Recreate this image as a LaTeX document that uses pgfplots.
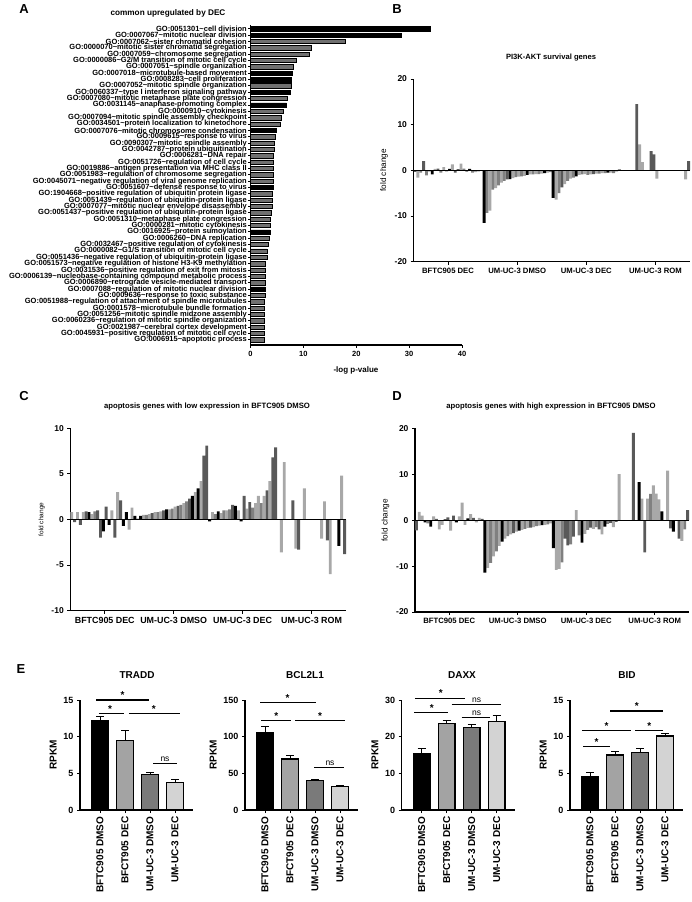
\documentclass[border=0pt]{standalone}
\usepackage{fontspec}
\setmainfont{Liberation Sans}
\usepackage{pgfplots}
\pgfplotsset{compat=1.18}

\definecolor{cdk}{HTML}{595959}
\definecolor{cmd}{HTML}{808080}
\definecolor{clt}{HTML}{A8A8A8}
\definecolor{agr}{HTML}{707070}
\definecolor{eg1}{HTML}{A3A3A3}
\definecolor{eg2}{HTML}{7A7A7A}
\definecolor{eg3}{HTML}{D3D3D3}
\newcommand\T{\textasciitilde}
\newcommand\fs[1]{\fontsize{#1}{#1}\selectfont}
\tikzset{sig/.style={line width=1.1pt}}

\pgfplotsset{
  gp/.style={scale only axis, anchor=south west, clip=false,
    axis x line*=bottom, axis y line*=left,
    axis line style={line width=1.1pt},
    tick style={line width=1pt, black},
    tick align=outside, major tick length=3pt,
    /pgf/number format/assume math mode=true},
  fc/.style={gp, width=276pt, height=183pt,
    xmin=-0.5, xmax=95.5, xtick={11.5,35.5,59.5,83.5},
    xticklabels={BFTC905 DEC,UM-UC-3 DMSO,UM-UC-3 DEC,UM-UC-3 ROM},
    xticklabel style={font=\fs{7.7}\bfseries},
    yticklabel style={font=\fs{8.5}\bfseries},
    ylabel={fold change}, ylabel style={font=\fs{8.2}}},
  fb/.style={ybar, bar width=2.9pt, bar shift=0pt, draw=none},
  eb/.style={gp, width=113pt, height=110pt, xmin=-0.8, xmax=3.72, ymin=0,
    axis line style={line width=1.3pt},
    xtick={0,1,2,3},
    xticklabels={BFTC905 DMSO,BFCT905 DEC,UM-UC-3 DMSO,UM-UC-3 DEC},
    xticklabel style={rotate=90, anchor=east, font=\fs{10}\bfseries},
    yticklabel style={font=\fs{9}\bfseries},
    ylabel={RPKM}, ylabel style={font=\fs{10}\bfseries}},
  ebar/.style={ybar, bar width=16.5pt, bar shift=0pt, draw=black, line width=1.2pt,
    error bars/y dir=plus, error bars/y explicit,
    error bars/error bar style={line width=1pt, black},
    error bars/error mark options={rotate=90, mark size=4pt, line width=1pt, black}},
}

\begin{document}
\begin{tikzpicture}
\path[use as bounding box] (0,0) rectangle (691pt,-902pt);

% panel letters and titles
\node[font=\fs{13}\bfseries] at (24pt,-9pt) {A};
\node[font=\fs{13}\bfseries] at (397pt,-9pt) {B};
\node[font=\fs{13}\bfseries] at (24pt,-396pt) {C};
\node[font=\fs{13}\bfseries] at (397pt,-396pt) {D};
\node[font=\fs{13}\bfseries] at (21pt,-669pt) {E};
\node[font=\fs{8.2}\bfseries] at (168pt,-13pt) {common upregulated by DEC};
\node[font=\fs{7.6}\bfseries] at (551pt,-58pt) {PI3K-AKT survival genes};
\node[font=\fs{7.7}\bfseries] at (207pt,-407pt) {apoptosis genes with low expression in BFTC905 DMSO};
\node[font=\fs{7.7}\bfseries] at (551pt,-407pt) {apoptosis genes with high expression in BFTC905 DMSO};
\node[font=\fs{8}\bfseries] at (356pt,-370pt) {-log p-value};

% ---------- A ----------
\begin{axis}[gp, at={(250.5pt,-345pt)}, width=211.5pt, height=320pt,
  y dir=reverse, xmin=0, xmax=40, ymin=0.4, ymax=50.8,
  xtick={0,10,20,30,40}, ytick={1,...,50},
  major tick length=2.5pt,
  xticklabel style={font=\fs{7.5}\bfseries},
  yticklabel style={font=\fs{7.5}\bfseries, inner xsep=1pt, inner ysep=0pt},
  yticklabels={GO:0051301\T cell division,GO:0007067\T mitotic nuclear division,GO:0007062\T sister chromatid cohesion,GO:0000070\T mitotic sister chromatid segregation,GO:0007059\T chromosome segregation,GO:0000086\T G2/M transition of mitotic cell cycle,GO:0007051\T spindle organization,GO:0007018\T microtubule-based movement,GO:0008283\T cell proliferation,GO:0007052\T mitotic spindle organization,GO:0060337\T type I interferon signaling pathway,GO:0007080\T mitotic metaphase plate congression,GO:0031145\T anaphase-promoting complex,GO:0000910\T cytokinesis,GO:0007094\T mitotic spindle assembly checkpoint,GO:0034501\T protein localization to kinetochore,GO:0007076\T mitotic chromosome condensation,GO:0009615\T response to virus,GO:0090307\T mitotic spindle assembly,GO:0042787\T protein ubiquitination,GO:0006281\T DNA repair,GO:0051726\T regulation of cell cycle,GO:0019886\T antigen presentation via MHC class II,GO:0051983\T regulation of chromosome segregation,GO:0045071\T negative regulation of viral genome replication,GO:0051607\T defense response to virus,GO:1904668\T positive regulation of ubiquitin protein ligase,GO:0051439\T regulation of ubiquitin-protein ligase,GO:0007077\T mitotic nuclear envelope disassembly,GO:0051437\T positive regulation of ubiquitin-protein ligase,GO:0051310\T metaphase plate congression,GO:0000281\T mitotic cytokinesis,GO:0016925\T protein sumoylation,GO:0006260\T DNA replication,GO:0032467\T positive regulation of cytokinesis,GO:0000082\T G1/S transition of mitotic cell cycle,GO:0051436\T negative regulation of ubiquitin-protein ligase,GO:0051573\T negative regulation of histone H3-K9 methylation,GO:0031536\T positive regulation of exit from mitosis,GO:0006139\T nucleobase-containing compound metabolic process,GO:0006890\T retrograde vesicle-mediated transport,GO:0007088\T regulation of mitotic nuclear division,GO:0009636\T response to toxic substance,GO:0051988\T regulation of attachment of spindle microtubules,GO:0001578\T microtubule bundle formation,GO:0051256\T mitotic spindle midzone assembly,GO:0060236\T regulation of mitotic spindle organization,GO:0021987\T cerebral cortex development,GO:0045931\T positive regulation of mitotic cell cycle,GO:0006915\T apoptotic process},
]
\addplot[xbar, bar width=4.3pt, bar shift=0pt, fill=black, draw=black, line width=0.5pt] coordinates {
(34,1) (28.5,2) (7.9,8) (7.8,9) (7.6,11) (6.8,13) (4.9,17) (4.3,26) (3.7,33) (2.8,42)};
\addplot[xbar, bar width=4.3pt, bar shift=0pt, fill=agr, draw=black, line width=0.7pt] coordinates {
(17.9,3) (11.6,4) (11.2,5) (8.6,6) (8.1,7) (7.7,10) (7.0,12) (6.2,14) (5.8,15) (5.7,16)
(4.7,18) (4.5,19) (4.5,20) (4.4,21) (4.4,22) (4.3,23) (4.3,24) (4.3,25) (4.15,27) (4.15,28)
(4.1,29) (3.9,30) (3.8,31) (3.7,32) (3.6,34) (3.3,35) (3.1,36) (3.1,37) (2.9,38) (2.9,39)
(2.8,40) (2.8,41) (2.8,43) (2.7,44) (2.7,45) (2.6,46) (2.6,47) (2.6,48) (2.6,49) (2.6,50)};
\end{axis}

% ---------- B ----------
\begin{axis}[fc, at={(413.5pt,-261.7pt)}, width=276.5pt, height=182.7pt,
  ymin=-20, ymax=20, ytick={-20,-10,0,10,20}]
\addplot[fb, fill=clt] coordinates {(1,-1.6) (5,-0.3) (7,0.3) (10,0.7) (11,-0.3) (13,1.3) (16,1.5) (21,-0.4) (23,-0.1) (26,-8.8) (28,-3.9) (30,-2.7) (34,-1.7) (36,-1.4) (38,-1.2) (40,-0.9) (42,-0.8) (44,-0.7) (46,-0.5) (49,-6.4) (52,-3.0) (54,-1.8) (57,-1.0) (59,-0.8) (61,-0.9) (63,-0.7) (65,-0.6) (68,-0.5) (70,-0.3) (78,5.7) (79,1.8) (84,-1.8) (94,-2.0)};
\addplot[fb, fill=cmd] coordinates {(2,-0.5) (4,-1.1) (9,-0.5) (17,0.4) (20,-0.5) (22,-0.2) (25,-9.3) (27,-4.2) (29,-3.3) (31,-2.3) (35,-1.5) (37,-1.3) (41,-0.9) (43,-0.8) (47,-0.4) (50,-5.0) (53,-2.3) (55,-1.6) (58,-0.9) (60,-1.0) (64,-0.7) (66,-0.6) (69,-0.6)};
\addplot[fb, fill=cdk] coordinates {(3,2.0) (8,0.4) (14,-0.5) (18,-0.3) (32,-2.0) (51,-3.7) (62,-0.8) (71,0.2) (77,14.5) (82,4.2) (83,3.5) (95,2.0)};
\addplot[fb, fill=black] coordinates {(0,-0.3) (6,-0.9) (12,0.3) (15,0.2) (19,0.3) (24,-11.5) (33,-1.9) (39,-1.0) (45,-0.6) (48,-6.0) (56,-1.3) (67,-0.5)};
\addplot[black, line width=1pt] coordinates {(-0.5,0) (95.5,0)};
\end{axis}

% ---------- C ----------
\begin{axis}[fc, at={(70.3pt,-610.7pt)}, width=275.7pt, height=182.4pt,
  ymin=-10, ymax=10, ytick={-10,-5,0,5,10},
  xticklabel style={font=\fs{8.9}\bfseries},
  ylabel style={font=\fs{6.5}}]
\addplot[fb, fill=clt] coordinates {(0,0.8) (2,0.8) (4,0.8) (7,0.6) (14,1.0) (16,3.0) (20,-1.1) (21,1.3) (25,0.5) (27,0.6) (29,0.8) (31,0.9) (34,1.1) (36,1.4) (39,1.8) (43,3.0) (45,4.2) (49,0.8) (52,0.7) (54,1.0) (58,1.0) (61,1.2) (64,1.8) (65,2.6) (67,2.6) (69,4.2) (73,-3.6) (74,6.3) (78,-3.2) (81,3.4) (87,-2.1) (88,2.0) (90,-6.0) (94,4.8)};
\addplot[fb, fill=cmd] coordinates {(8,0.9) (23,0.1) (26,0.5) (30,0.8) (35,1.2) (38,1.6) (40,2.0) (50,0.6) (53,1.0) (55,1.1) (63,1.3) (66,1.8)};
\addplot[fb, fill=cdk] coordinates {(1,-0.3) (3,-0.6) (5,0.9) (9,1.0) (10,-2.0) (12,1.4) (15,-2.0) (17,2.1) (28,0.7) (32,1.0) (37,1.5) (41,2.3) (46,7.0) (47,8.1) (56,1.6) (60,2.6) (62,1.9) (68,3.2) (70,6.8) (71,7.9) (77,2.1) (79,-3.3) (89,-2.3) (95,-3.8)};
\addplot[fb, fill=black] coordinates {(6,0.8) (11,-1.3) (13,-0.6) (18,-0.7) (19,0.8) (22,0.4) (24,0.4) (33,1.1) (42,2.6) (44,3.4) (48,-0.2) (51,0.9) (57,1.5) (59,-0.2) (93,-2.9)};
\addplot[black, line width=1pt] coordinates {(-0.5,0) (95.5,0)};
\end{axis}

% ---------- D ----------
\begin{axis}[fc, at={(415pt,-612pt)}, width=274pt, height=183.7pt,
  ymin=-20, ymax=20, ytick={-20,-10,0,10,20}]
\addplot[fb, fill=clt] coordinates {(1,1.8) (2,1.0) (6,0.8) (8,-2.0) (9,-1.0) (12,-2.3) (15,0.8) (16,3.8) (17,-1.0) (19,1.3) (21,-0.5) (22,0.5) (25,-10.4) (27,-7.9) (29,-5.6) (31,-4.0) (33,-3.1) (35,-2.5) (37,-2.1) (39,-1.7) (41,-1.5) (43,-1.2) (45,-1.0) (47,-0.7) (49,-10.8) (50,-10.6) (56,2.2) (59,-3.0) (62,-1.9) (65,-3.1) (69,-1.5) (71,10.0) (79,4.7) (81,4.7) (83,7.6) (84,5.8) (85,4.5) (88,10.8) (93,-4.5)};
\addplot[fb, fill=cmd] coordinates {(4,-0.7) (26,-9.3) (28,-6.8) (32,-3.5) (38,-1.9) (42,-1.3) (46,-0.9) (51,-9.2) (54,-5.3) (57,-3.3) (60,-2.1) (63,-1.5) (67,-0.8) (82,5.7) (94,-2.0)};
\addplot[fb, fill=cdk] coordinates {(0,-2.2) (7,0.3) (10,0.2) (11,0.6) (13,1.0) (20,0.5) (23,0.3) (34,-2.8) (40,-1.6) (52,-4.0) (53,-5.5) (55,-3.6) (61,-1.6) (64,-2.0) (68,-0.6) (70,-0.4) (76,19.0) (80,-7.0) (89,-1.8) (92,-4.0) (95,2.2)};
\addplot[fb, fill=black] coordinates {(3,-0.5) (5,-1.4) (14,-0.5) (18,0.4) (24,-11.4) (30,-4.7) (36,-2.3) (44,-1.1) (48,-6.1) (58,-4.9) (66,-1.4) (78,8.3) (86,1.9) (90,-2.5)};
\addplot[black, line width=1pt] coordinates {(-0.5,0) (95.5,0)};
\end{axis}

% ---------- E: TRADD ----------
\node[font=\fs{10}\bfseries] at (137pt,-675pt) {TRADD};
\begin{axis}[eb, at={(80pt,-810pt)}, ymax=15, ytick={0,5,10,15}]
\addplot[ebar, fill=black] coordinates {(0,12.2) +- (0,0.5)};
\addplot[ebar, fill=eg1] coordinates {(1,9.5) +- (0,1.3)};
\addplot[ebar, fill=eg2] coordinates {(2,4.85) +- (0,0.3)};
\addplot[ebar, fill=eg3] coordinates {(3,3.75) +- (0,0.35)};
\draw[sig] (axis cs:-0.16,15) -- (axis cs:1.97,15);
\draw[sig] (axis cs:-0.05,13.2) -- (axis cs:0.96,13.2);
\draw[sig] (axis cs:1.15,13.2) -- (axis cs:3.2,13.2);
\draw[sig] (axis cs:2.13,6.4) -- (axis cs:3.07,6.4);
\node[font=\fs{10}\bfseries, anchor=south, inner sep=1pt] at (axis cs:0.9,15) {*};
\node[font=\fs{10}\bfseries, anchor=south, inner sep=1pt] at (axis cs:0.4,13.2) {*};
\node[font=\fs{10}\bfseries, anchor=south, inner sep=1pt] at (axis cs:2.15,13.2) {*};
\node[font=\fs{8.5}, anchor=south, inner sep=1.5pt] at (axis cs:2.6,6.4) {ns};
\end{axis}

% ---------- E: BCL2L1 ----------
\node[font=\fs{10}\bfseries] at (305pt,-675pt) {BCL2L1};
\begin{axis}[eb, at={(245pt,-810pt)}, ymax=150, ytick={0,50,100,150}]
\addplot[ebar, fill=black] coordinates {(0,106) +- (0,8.5)};
\addplot[ebar, fill=eg1] coordinates {(1,69.5) +- (0,5)};
\addplot[ebar, fill=eg2] coordinates {(2,40) +- (0,1.5)};
\addplot[ebar, fill=eg3] coordinates {(3,32) +- (0,1)};
\draw[sig] (axis cs:-0.2,147) -- (axis cs:2.02,147);
\draw[sig] (axis cs:-0.15,122) -- (axis cs:1.05,122);
\draw[sig] (axis cs:1.2,122) -- (axis cs:3.2,122);
\draw[sig] (axis cs:1.97,58) -- (axis cs:3.15,58);
\node[font=\fs{10}\bfseries, anchor=south, inner sep=1pt] at (axis cs:0.9,147) {*};
\node[font=\fs{10}\bfseries, anchor=south, inner sep=1pt] at (axis cs:0.45,122) {*};
\node[font=\fs{10}\bfseries, anchor=south, inner sep=1pt] at (axis cs:2.2,122) {*};
\node[font=\fs{8.5}, anchor=south, inner sep=1.5pt] at (axis cs:2.6,58) {ns};
\end{axis}

% ---------- E: DAXX ----------
\node[font=\fs{10}\bfseries] at (462pt,-675pt) {DAXX};
\begin{axis}[eb, at={(401.7pt,-810pt)}, ymax=30, ytick={0,10,20,30}]
\addplot[ebar, fill=black] coordinates {(0,15.4) +- (0,1.4)};
\addplot[ebar, fill=eg1] coordinates {(1,23.5) +- (0,1.0)};
\addplot[ebar, fill=eg2] coordinates {(2,22.5) +- (0,0.7)};
\addplot[ebar, fill=eg3] coordinates {(3,24.2) +- (0,1.6)};
\draw[sig] (axis cs:-0.27,30.5) -- (axis cs:1.75,30.5);
\draw[sig] (axis cs:1.2,28.8) -- (axis cs:3.17,28.8);
\draw[sig] (axis cs:-0.29,26.6) -- (axis cs:1.07,26.6);
\draw[sig] (axis cs:1.6,25.2) -- (axis cs:2.75,25.2);
\node[font=\fs{10}\bfseries, anchor=south, inner sep=1pt] at (axis cs:0.76,30.5) {*};
\node[font=\fs{8.5}, anchor=south, inner sep=1.5pt] at (axis cs:2.2,28.8) {ns};
\node[font=\fs{10}\bfseries, anchor=south, inner sep=1pt] at (axis cs:0.4,26.6) {*};
\node[font=\fs{8.5}, anchor=south, inner sep=1.5pt] at (axis cs:2.2,25.2) {ns};
\end{axis}

% ---------- E: BID ----------
\node[font=\fs{10}\bfseries] at (627pt,-675pt) {BID};
\begin{axis}[eb, at={(570pt,-810pt)}, ymax=15, ytick={0,5,10,15}]
\addplot[ebar, fill=black] coordinates {(0,4.6) +- (0,0.55)};
\addplot[ebar, fill=eg1] coordinates {(1,7.5) +- (0,0.45)};
\addplot[ebar, fill=eg2] coordinates {(2,7.8) +- (0,0.6)};
\addplot[ebar, fill=eg3] coordinates {(3,10.1) +- (0,0.35)};
\draw[sig] (axis cs:0.8,13.5) -- (axis cs:2.93,13.5);
\draw[sig] (axis cs:-0.33,10.8) -- (axis cs:1.65,10.8);
\draw[sig] (axis cs:1.8,10.8) -- (axis cs:2.93,10.8);
\draw[sig] (axis cs:-0.27,8.6) -- (axis cs:0.79,8.6);
\node[font=\fs{10}\bfseries, anchor=south, inner sep=1pt] at (axis cs:1.87,13.5) {*};
\node[font=\fs{10}\bfseries, anchor=south, inner sep=1pt] at (axis cs:0.66,10.8) {*};
\node[font=\fs{10}\bfseries, anchor=south, inner sep=1pt] at (axis cs:2.37,10.8) {*};
\node[font=\fs{10}\bfseries, anchor=south, inner sep=1pt] at (axis cs:0.26,8.6) {*};
\end{axis}
\end{tikzpicture}
\end{document}
